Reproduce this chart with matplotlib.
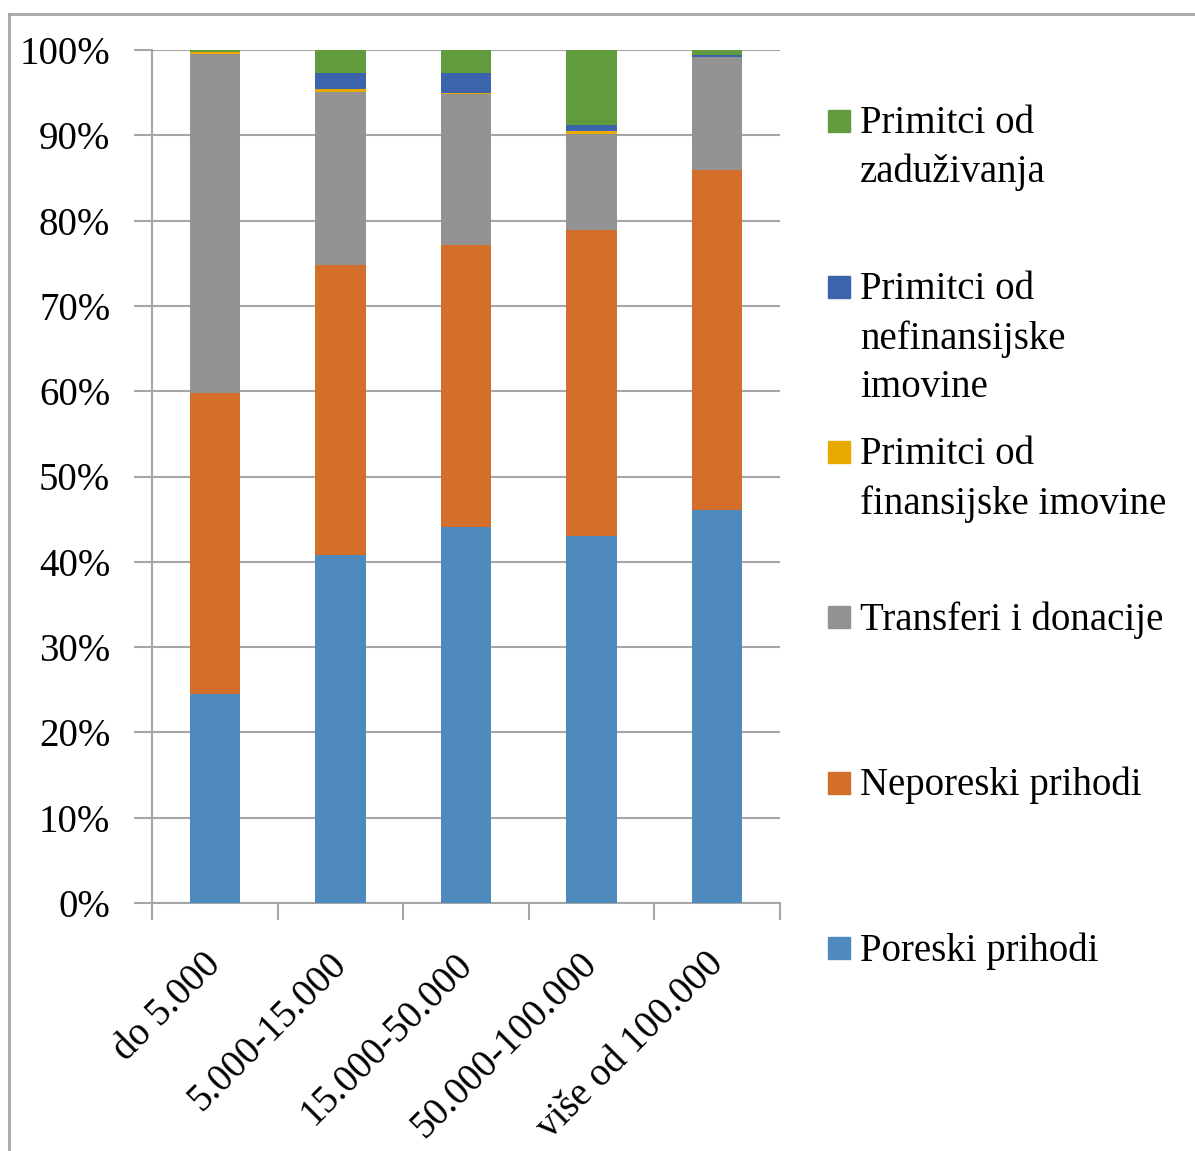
import matplotlib
matplotlib.use("Agg")
import matplotlib.pyplot as plt
import numpy as np
from matplotlib.patches import Rectangle
from matplotlib.lines import Line2D

categories = ["do 5.000", "5.000-15.000", "15.000-50.000", "50.000-100.000", "više od 100.000"]
series_names = ["Poreski prihodi", "Neporeski prihodi", "Transferi i donacije",
                "Primitci od\nfinansijske imovine", "Primitci od\nnefinansijske\nimovine",
                "Primitci od\nzaduživanja"]
poreski = [24.5, 40.8, 44.1, 43.0, 46.1]
neporeski = [35.3, 34.0, 33.0, 35.9, 39.8]
transferi = [39.7, 20.3, 17.7, 11.3, 13.3]
finansijske = [0.25, 0.3, 0.15, 0.35, 0.0]
nefinansijske = [0.0, 1.95, 2.4, 0.65, 0.25]
zaduzivanja = [0.25, 2.65, 2.65, 8.8, 0.55]
yticks = [0, 10, 20, 30, 40, 50, 60, 70, 80, 90, 100]

series = [poreski, neporeski, transferi, finansijske, nefinansijske, zaduzivanja]
colors = ["#4F8ABE", "#D46E2B", "#939393", "#E8A900", "#3B64AD", "#629A3E"]

plt.rcParams['font.family'] = ['Liberation Serif', 'DejaVu Serif']
FS = 28
W, H = 1195, 1151
fig = plt.figure(figsize=(W / 100, H / 100), dpi=100)
ax = fig.add_axes([152 / W, 1 - 903 / H, (780 - 152) / W, (903 - 50) / H])

x = np.arange(len(categories))
bottom = np.zeros(len(categories))
for vals, c, n in zip(series, colors, series_names):
    v = np.array(vals, dtype=float)
    ax.bar(x, v, bottom=bottom, width=0.4, color=c, label=n, zorder=3)
    bottom += v

ax.set_xlim(-0.5, len(categories) - 0.5)
ax.set_ylim(0, 100)
ax.set_yticks(yticks)
ax.set_yticklabels([f"{t}%" for t in yticks], fontsize=FS)
ax.yaxis.grid(True, color="#A6A6A6", linewidth=1.5, zorder=0)
ax.tick_params(axis='y', length=13, width=1.5, color="#A6A6A6", pad=17)

ax.set_xticks(np.arange(len(categories) + 1) - 0.5)
ax.set_xticklabels([])
ax.tick_params(axis='x', length=12, width=1.5, color="#A6A6A6")
for xi, lab in zip(x, categories):
    ax.text(xi - 0.1, -5.0, lab, rotation=45, ha='right', va='top',
            rotation_mode='anchor', fontsize=FS, transform=ax.transData)

for s in ['top', 'right']:
    ax.spines[s].set_visible(False)
for s in ['left', 'bottom']:
    ax.spines[s].set_color("#A6A6A6")
    ax.spines[s].set_linewidth(1.5)

# legend (reversed order), drawn manually
leg_y = [121, 287, 452, 617, 783, 948]
for yy, n, c in zip(leg_y, series_names[::-1], colors[::-1]):
    fig.patches.append(Rectangle((828 / W, 1 - (yy + 11) / H), 22 / W, 22 / H,
                                 transform=fig.transFigure, color=c))
    fig.text(860 / W, 1 - (yy - 16) / H, n, fontsize=FS, va='top', ha='left',
             linespacing=1.42)

# outer chart frame
fig.lines.append(Line2D([8.5 / W, 8.5 / W], [1 - 14 / H, 0], transform=fig.transFigure,
                        color="#A6A6A6", linewidth=2))
fig.lines.append(Line2D([8.5 / W, 1], [1 - 14 / H, 1 - 14 / H], transform=fig.transFigure,
                        color="#A6A6A6", linewidth=2))

fig.savefig("out.png", dpi=100)
